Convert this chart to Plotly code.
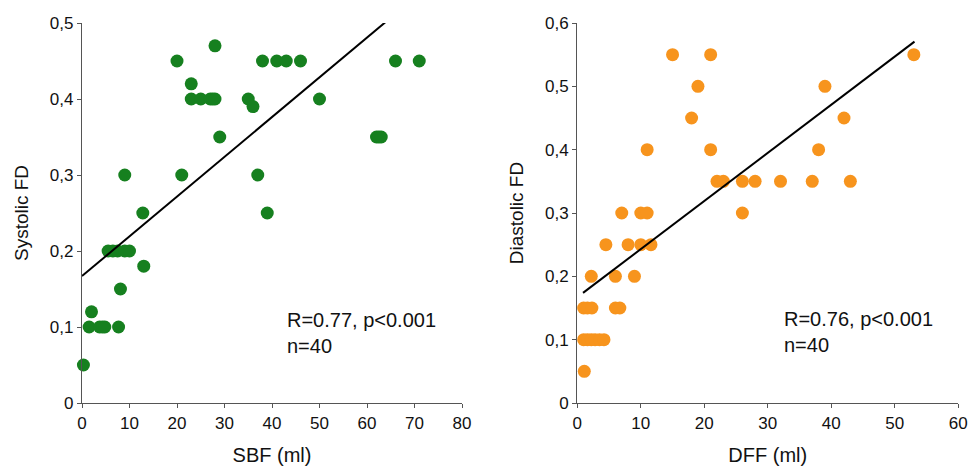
import numpy as np
import plotly.graph_objects as go
from plotly.subplots import make_subplots

# Systolic backward flow (ml) vs systolic FD
sbf_ml = [0.3, 1.5, 2.0, 3.7, 4.3, 4.8, 7.7, 8.1, 5.5, 6.5, 7.5, 9.0, 10.0, 13.0,
          9.0, 12.8, 20.0, 21.0, 23.0, 23.0, 25.0, 27.0, 27.5, 28.0, 28.0, 29.0,
          35.0, 36.0, 37.0, 39.0, 38.0, 41.0, 43.0, 46.0, 50.0, 62.0, 62.5, 63.0,
          66.0, 71.0]
systolic_fd = [0.05, 0.10, 0.12, 0.10, 0.10, 0.10, 0.10, 0.15, 0.20, 0.20, 0.20, 0.20,
               0.20, 0.18, 0.30, 0.25, 0.45, 0.30, 0.42, 0.40, 0.40, 0.40, 0.40, 0.40,
               0.47, 0.35, 0.40, 0.39, 0.30, 0.25, 0.45, 0.45, 0.45, 0.45, 0.40, 0.35,
               0.35, 0.35, 0.45, 0.45]

# Diastolic forward flow (ml) vs diastolic FD
dff_ml = [1.1, 1.0, 1.6, 2.2, 2.8, 3.5, 4.2, 1.0, 1.6, 2.3, 6.0, 6.7, 2.2, 6.0, 9.0,
          4.5, 8.0, 10.0, 11.6, 7.0, 10.0, 11.0, 26.0, 11.0, 21.0, 38.0, 18.0, 42.0,
          19.0, 39.0, 15.0, 21.0, 53.0, 22.0, 23.0, 26.0, 28.0, 32.0, 37.0, 43.0]
diastolic_fd = [0.05, 0.10, 0.10, 0.10, 0.10, 0.10, 0.10, 0.15, 0.15, 0.15, 0.15, 0.15,
                0.20, 0.20, 0.20, 0.25, 0.25, 0.25, 0.25, 0.30, 0.30, 0.30, 0.30, 0.40,
                0.40, 0.40, 0.45, 0.45, 0.50, 0.50, 0.55, 0.55, 0.55, 0.35, 0.35, 0.35,
                0.35, 0.35, 0.35, 0.35]

# Linear fits (intercept, slope) and the x-span each fitted line covers
sys_fit = (0.167, 0.00523)
sys_fit_span = (0.0, 64.0)
dia_fit = (0.167, 0.0076)
dia_fit_span = (0.9, 53.1)

sys_stats = "R=0.77, p<0.001<br>n=40"
dia_stats = "R=0.76, p<0.001<br>n=40"

sys_yticks = [0, 0.1, 0.2, 0.3, 0.4, 0.5]
sys_yticktext = ["0", "0,1", "0,2", "0,3", "0,4", "0,5"]
dia_yticks = [0, 0.1, 0.2, 0.3, 0.4, 0.5, 0.6]
dia_yticktext = ["0", "0,1", "0,2", "0,3", "0,4", "0,5", "0,6"]
sys_xticks = [0, 10, 20, 30, 40, 50, 60, 70, 80]
dia_xticks = [0, 10, 20, 30, 40, 50, 60]

GREEN = "#16801f"
ORANGE = "#f7941d"
FONT = "Liberation Sans, Arial, sans-serif"
AXIS_GREY = "#555555"
TEXT = "#111111"

W, H = 970, 470
fig = make_subplots(rows=1, cols=2)


def fit_line(fit, span):
    xs = np.array(span)
    return xs, fit[0] + fit[1] * xs


fig.add_trace(go.Scatter(x=sbf_ml, y=systolic_fd, mode="markers",
                         marker=dict(size=13, color=GREEN), cliponaxis=False,
                         showlegend=False), row=1, col=1)
lx, ly = fit_line(sys_fit, sys_fit_span)
fig.add_trace(go.Scatter(x=lx, y=ly, mode="lines",
                         line=dict(color="black", width=2), cliponaxis=False,
                         showlegend=False), row=1, col=1)

fig.add_trace(go.Scatter(x=dff_ml, y=diastolic_fd, mode="markers",
                         marker=dict(size=13, color=ORANGE), cliponaxis=False,
                         showlegend=False), row=1, col=2)
lx, ly = fit_line(dia_fit, dia_fit_span)
fig.add_trace(go.Scatter(x=lx, y=ly, mode="lines",
                         line=dict(color="black", width=2), cliponaxis=False,
                         showlegend=False), row=1, col=2)

axis_common = dict(showgrid=False, zeroline=False, showline=True, linecolor=AXIS_GREY,
                   linewidth=1.3, ticks="outside", ticklen=4, tickcolor=AXIS_GREY,
                   tickfont=dict(family=FONT, size=17, color=TEXT),
                   automargin=False)
xtitle_font = dict(family=FONT, size=20, color=TEXT)
ytitle_font = dict(family=FONT, size=19, color=TEXT)

# plot areas in pixels
left_x = (82, 462)
right_x = (577.3, 958.3)
y_px = (23, 403)
ydom = [1 - y_px[1] / H, 1 - y_px[0] / H]

fig.update_xaxes(row=1, col=1, domain=[left_x[0] / W, left_x[1] / W], range=[0, 80],
                 tickvals=sys_xticks,
                 title=dict(text="SBF (ml)", font=xtitle_font, standoff=16), **axis_common)
fig.update_yaxes(row=1, col=1, domain=ydom, range=[0, 0.5],
                 tickvals=sys_yticks, ticktext=sys_yticktext,
                 title=dict(text="Systolic FD", font=ytitle_font, standoff=16), **axis_common)
fig.update_xaxes(row=1, col=2, domain=[right_x[0] / W, right_x[1] / W], range=[0, 60],
                 tickvals=dia_xticks,
                 title=dict(text="DFF (ml)", font=xtitle_font, standoff=16), **axis_common)
fig.update_yaxes(row=1, col=2, domain=ydom, range=[0, 0.6],
                 tickvals=dia_yticks, ticktext=dia_yticktext,
                 title=dict(text="Diastolic FD", font=ytitle_font, standoff=16), **axis_common)

fig.add_annotation(x=42.7, y=0.0925, xref="x", yref="y", text=sys_stats,
                   showarrow=False, xanchor="left", yanchor="middle", align="left",
                   font=dict(family=FONT, size=20, color=TEXT))
fig.add_annotation(x=32.2, y=0.1115, xref="x2", yref="y2", text=dia_stats,
                   showarrow=False, xanchor="left", yanchor="middle", align="left",
                   font=dict(family=FONT, size=20, color=TEXT))

fig.update_layout(width=W, height=H, margin=dict(l=0, r=0, t=0, b=0),
                  paper_bgcolor="white", plot_bgcolor="white",
                  font=dict(family=FONT))

fig.write_html("out.html")
